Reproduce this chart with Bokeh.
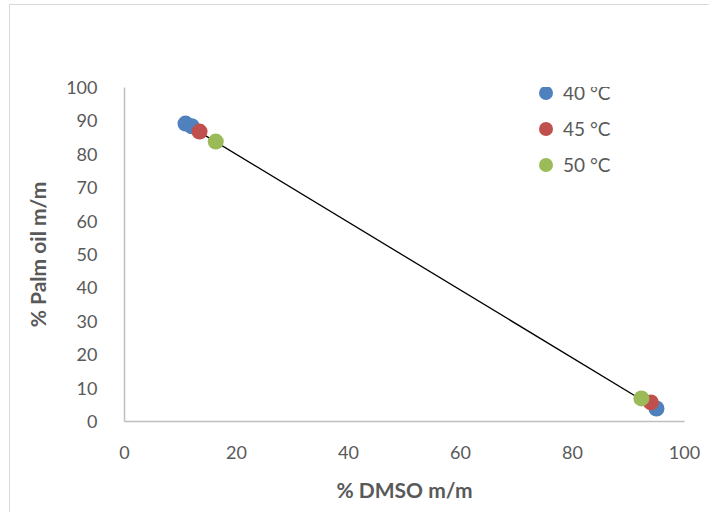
from bokeh.plotting import figure
from bokeh.models import Range1d, FixedTicker, Legend, LegendItem
from bokeh.embed import file_html
from bokeh.resources import INLINE

# Data
x40 = [10.9, 12.0, 95.0]
y40 = [89.2, 88.4, 3.9]
x45 = [13.4, 94.0]
y45 = [86.8, 5.7]
x50 = [16.3, 92.3]
y50 = [83.8, 6.9]
tie_x = [11.2, 94.9]
tie_y = [88.9, 3.9]
series_labels = ["40 °C", "45 °C", "50 °C"]
x_ticks = [0, 20, 40, 60, 80, 100]
y_ticks = [0, 10, 20, 30, 40, 50, 60, 70, 80, 90, 100]

FONT = "Lato"
GREY = "#595959"

p = figure(width=700, height=508, output_backend="svg", toolbar_location=None,
           x_range=Range1d(0, 100), y_range=Range1d(0, 100),
           min_border_left=114, min_border_right=26, min_border_top=82, min_border_bottom=92,
           styles={"border-left": "1px solid #d9d9d9", "border-top": "1px solid #d9d9d9"},
           margin=(4, 0, 0, 9))
p.outline_line_color = None
p.grid.grid_line_color = None

p.line(tie_x, tie_y, line_color="black", line_width=1.3)

r40 = p.scatter(x40, y40, size=16, color="#4F81BD", line_color=None)
r45 = p.scatter(x45, y45, size=16, color="#C0504D", line_color=None)
r50 = p.scatter(x50, y50, size=16, color="#9BBB59", line_color=None)

for ax in (p.xaxis[0], p.yaxis[0]):
    ax.axis_line_color = "#BFBFBF"
    ax.axis_line_width = 1.5
    ax.major_tick_line_color = None
    ax.minor_tick_line_color = None
    ax.major_label_text_font = FONT
    ax.major_label_text_font_size = "18px"
    ax.major_label_text_color = GREY
    ax.axis_label_text_font = FONT
    ax.axis_label_text_font_size = "21px"
    ax.axis_label_text_font_style = "bold"
    ax.axis_label_text_color = GREY

p.xaxis.ticker = FixedTicker(ticks=x_ticks)
p.yaxis.ticker = FixedTicker(ticks=y_ticks)
p.xaxis.major_label_standoff = 18
p.yaxis.major_label_standoff = 21
p.xaxis.axis_label = "% DMSO m/m"
p.yaxis.axis_label = "% Palm oil m/m"
p.xaxis.axis_label_standoff = 15
p.yaxis.axis_label_standoff = 13

legend = Legend(items=[LegendItem(label=series_labels[0], renderers=[r40]),
                       LegendItem(label=series_labels[1], renderers=[r45]),
                       LegendItem(label=series_labels[2], renderers=[r50])],
                location=(404, 239))
legend.background_fill_alpha = 0
legend.border_line_color = None
legend.padding = 0
legend.margin = 0
legend.spacing = 1
legend.glyph_width = 35
legend.glyph_height = 35
legend.label_height = 35
legend.label_standoff = -6
legend.label_text_font = FONT
legend.label_text_font_size = "19px"
legend.label_text_color = GREY
legend.label_text_baseline = "middle"
p.add_layout(legend)

open("out.html", "w").write(file_html(p, INLINE))
